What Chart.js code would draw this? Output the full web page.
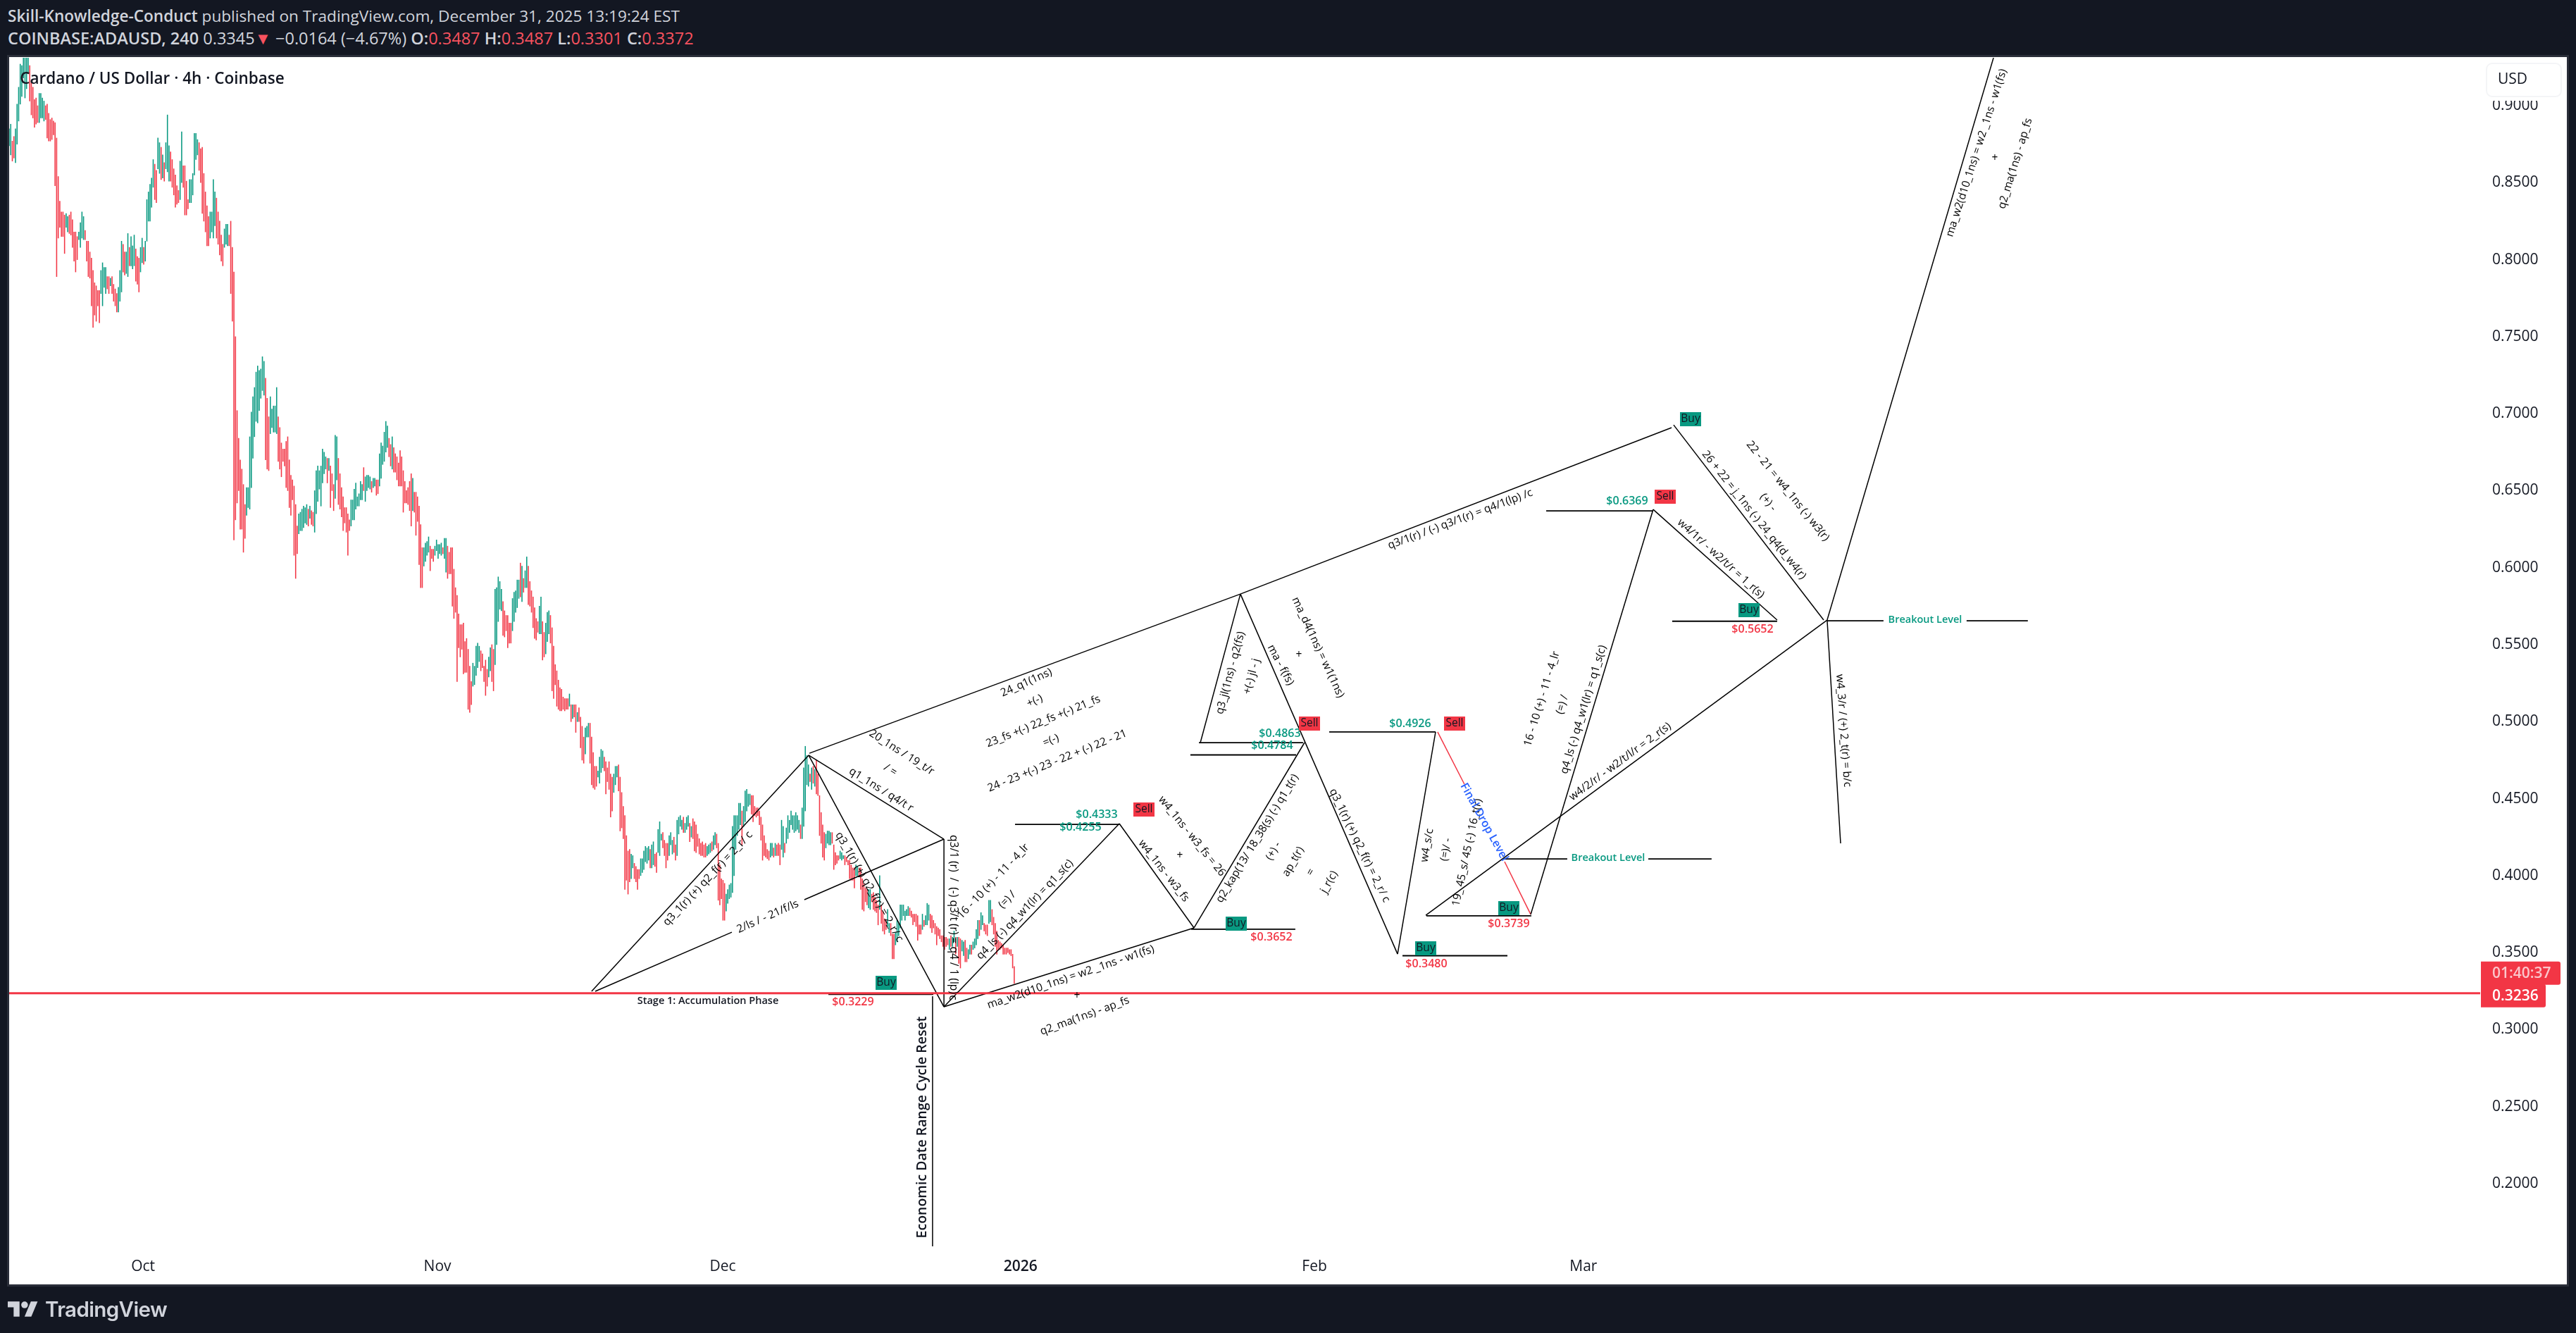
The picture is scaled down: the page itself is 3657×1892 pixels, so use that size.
<!DOCTYPE html>
<html>
<head>
<meta charset="utf-8">
<title>COINBASE:ADAUSD</title>
<script src="https://cdn.jsdelivr.net/npm/chart.js@4/dist/chart.umd.min.js"></script>
<style>
  html, body { margin: 0; width: 3657px; height: 1892px; background: #131722; overflow: hidden; }
  #panel { position: absolute; left: 10px; top: 78px; width: 3631px; height: 1742px; background: #fff; border: 3px solid #2a2e39; }
  #chart { position: absolute; left: 0; top: 0; }
  .head { position: absolute; left: 11px; font-family: "Open Sans"; color: #d1d4dc; white-space: nowrap; line-height: 30px; }
  .head b { font-weight: 600; }
  .head span { color: #f7525f; }
  #logo { position: absolute; left: 11px; top: 1847px; }
  #brand { position: absolute; left: 64px; top: 1840px; font: 600 29.5px Inter; color: #d1d4dc; letter-spacing: -0.6px; }
</style>
</head>
<body>
<div class="head" style="top:8px;font-size:22.6px"><b>Skill-Knowledge-Conduct</b> published on TradingView.com, December 31, 2025 13:19:24 EST</div>
<div class="head" style="top:39px;font-size:23.5px"><b>COINBASE:ADAUSD, 240</b> 0.3345<span>▼</span> −0.0164 (−4.67%) <b>O:</b><span>0.3487</span> <b>H:</b><span>0.3487</span> <b>L:</b><span>0.3301</span> <b>C:</b><span>0.3372</span></div>
<div id="panel"></div>
<canvas id="chart" width="3657" height="1892"></canvas>
<svg id="logo" width="43" height="22" viewBox="0 4 36 18"><path fill="#d1d4dc" d="M14 22H7V11H0V4h14v18zM28 22h-8l7.5-18h8L28 22z"/><circle fill="#d1d4dc" cx="20" cy="8" r="4"/></svg>
<div id="brand">TradingView</div>

<script>
// 4h candles (high, low, direction)
const highs = [
  .885,.888,.877,.880,.885,.901,.912,.927,.926,.945,
  .935,.940,.940,.926,.915,.912,.904,.905,.900,.908,
  .908,.905,.903,.900,.901,.895,.891,.892,.890,.889,
  .879,.854,.838,.831,.831,.829,.830,.828,.829,.831,
  .826,.818,.818,.815,.818,.824,.831,.828,.819,.812,
  .812,.805,.801,.793,.785,.783,.780,.780,.793,.798,
  .795,.795,.789,.789,.788,.789,.784,.781,.778,.782,
  .793,.812,.810,.805,.805,.817,.808,.815,.809,.816,
  .807,.802,.801,.808,.814,.808,.812,.839,.844,.849,
  .853,.865,.862,.858,.879,.876,.873,.868,.863,.876,
  .894,.874,.870,.865,.859,.855,.848,.845,.864,.883,
  .861,.861,.851,.839,.852,.852,.856,.882,.882,.878,
  .876,.872,.873,.856,.844,.835,.828,.831,.831,.852,
  .844,.840,.831,.825,.816,.810,.820,.823,.823,.816,
  .825,.808,.792,.750,.702,.684,.670,.664,.654,.641,
  .652,.652,.685,.701,.711,.717,.727,.731,.728,.729,
  .737,.734,.723,.710,.698,.711,.703,.705,.705,.717,
  .698,.691,.681,.677,.677,.682,.685,.670,.660,.657,
  .653,.641,.627,.635,.636,.638,.640,.639,.641,.638,
  .640,.637,.636,.650,.663,.666,.663,.666,.677,.675,
  .672,.671,.671,.666,.661,.654,.686,.685,.671,.661,
  .652,.646,.639,.639,.635,.631,.644,.644,.651,.655,
  .646,.648,.656,.654,.665,.659,.660,.660,.659,.656,
  .658,.658,.657,.657,.674,.681,.679,.688,.695,.692,
  .684,.680,.685,.678,.674,.672,.668,.676,.672,.663,
  .656,.650,.652,.656,.661,.658,.649,.649,.646,.640,
  .628,.613,.613,.616,.617,.620,.614,.612,.612,.614,
  .618,.615,.615,.616,.613,.619,.619,.614,.610,.613,
  .613,.599,.587,.582,.570,.563,.563,.564,.552,.554,
  .547,.536,.526,.538,.536,.549,.551,.549,.546,.544,
  .536,.540,.534,.542,.548,.550,.547,.586,.587,.594,
  .591,.586,.578,.572,.569,.569,.564,.564,.580,.584,
  .585,.592,.592,.603,.601,.593,.598,.607,.601,.591,
  .585,.581,.574,.567,.565,.575,.581,.565,.558,.564,
  .571,.572,.569,.561,.549,.537,.533,.527,.522,.521,
  .516,.515,.515,.515,.518,.511,.511,.511,.511,.506,
  .509,.503,.497,.490,.496,.497,.499,.499,.490,.480,
  .471,.471,.468,.477,.482,.481,.477,.474,.470,.474,
  .466,.464,.466,.471,.471,.472,.464,.454,.445,.439,
  .426,.416,.417,.414,.413,.408,.406,.404,.404,.411,
  .411,.416,.419,.418,.419,.417,.420,.422,.414,.415,
  .430,.435,.427,.428,.423,.421,.421,.426,.428,.423,
  .425,.420,.436,.438,.439,.436,.438,.434,.438,.439,
  .434,.432,.437,.435,.433,.427,.424,.421,.422,.420,
  .421,.419,.420,.421,.422,.426,.428,.427,.421,.407,
  .398,.397,.395,.388,.391,.394,.395,.432,.439,.439,
  .439,.447,.447,.442,.445,.455,.456,.453,.453,.452,
  .452,.445,.444,.444,.442,.438,.433,.426,.421,.417,
  .416,.421,.421,.418,.421,.420,.421,.420,.436,.432,
  .421,.431,.439,.436,.442,.439,.439,.441,.439,.436,
  .433,.444,.470,.484,.478,.472,.466,.470,.471,.469,
  .475,.466,.452,.441,.433,.428,.427,.429,.429,.428,
  .428,.420,.415,.413,.413,.416,.415,.413,.413,.412,
  .410,.410,.407,.405,.405,.407,.406,.405,.405,.398,
  .395,.392,.391,.391,.391,.388,.389,.386,.384,.381,
  .400,.381,.377,.372,.371,.378,.369,.369,.362,.362,
  .363,.371,.369,.381,.381,.381,.377,.378,.380,.379,
  .377,.375,.375,.375,.374,.368,.368,.375,.371,.374,
  .382,.381,.375,.374,.371,.369,.367,.366,.365,.361,
  .361,.360,.360,.359,.359,.361,.360,.364,.360,.360,
  .360,.359,.358,.357,.358,.353,.352,.355,.355,.357,
  .359,.365,.371,.371,.376,.374,.369,.368,.368,.384,
  .384,.378,.373,.369,.364,.358,.357,.356,.355,.353,
  .353,.353,.352,.352,.349,.341
];
const lows = [
  .874,.868,.864,.866,.863,.875,.890,.901,.906,.918,
  .905,.911,.921,.903,.894,.892,.886,.888,.889,.889,
  .892,.892,.890,.891,.879,.877,.877,.878,.881,.848,
  .789,.814,.821,.815,.815,.804,.821,.818,.817,.816,
  .808,.799,.792,.800,.813,.808,.814,.813,.813,.799,
  .789,.788,.770,.756,.764,.760,.770,.759,.778,.770,
  .782,.778,.781,.778,.783,.778,.773,.770,.766,.766,
  .773,.779,.792,.790,.791,.789,.796,.796,.794,.796,
  .786,.784,.779,.792,.798,.797,.799,.812,.825,.825,
  .834,.847,.839,.837,.859,.856,.852,.853,.851,.859,
  .857,.851,.851,.847,.842,.834,.836,.837,.839,.850,
  .847,.829,.829,.833,.837,.837,.842,.855,.865,.868,
  .858,.850,.830,.825,.818,.809,.809,.814,.818,.814,
  .822,.814,.810,.803,.799,.796,.808,.810,.809,.809,
  .778,.760,.618,.631,.642,.650,.625,.625,.610,.619,
  .634,.639,.638,.652,.671,.685,.695,.694,.702,.710,
  .715,.712,.670,.664,.663,.687,.691,.688,.688,.687,
  .669,.664,.659,.669,.666,.652,.650,.639,.634,.644,
  .608,.593,.609,.622,.624,.624,.626,.629,.628,.627,
  .632,.628,.627,.623,.635,.643,.651,.640,.655,.661,
  .664,.655,.663,.639,.650,.637,.645,.657,.641,.638,
  .633,.624,.629,.623,.608,.624,.627,.631,.631,.638,
  .640,.640,.644,.644,.650,.643,.650,.652,.651,.649,
  .652,.653,.647,.648,.653,.658,.667,.669,.675,.678,
  .672,.666,.664,.662,.662,.657,.653,.653,.653,.636,
  .642,.642,.641,.637,.627,.637,.636,.621,.630,.602,
  .587,.587,.601,.604,.608,.610,.598,.606,.604,.608,
  .611,.606,.609,.608,.609,.606,.597,.593,.596,.596,
  .575,.567,.571,.526,.548,.542,.547,.531,.532,.532,
  .508,.506,.511,.523,.524,.530,.535,.539,.533,.535,
  .526,.517,.523,.529,.533,.526,.520,.537,.550,.565,
  .573,.572,.556,.555,.559,.548,.551,.551,.559,.565,
  .571,.574,.580,.581,.578,.584,.587,.587,.576,.575,
  .571,.561,.554,.553,.558,.557,.557,.540,.542,.544,
  .552,.557,.551,.520,.515,.524,.510,.508,.507,.507,
  .508,.507,.508,.508,.510,.500,.502,.503,.493,.500,
  .500,.483,.475,.473,.479,.490,.490,.473,.459,.457,
  .456,.458,.464,.460,.467,.470,.468,.453,.461,.456,
  .438,.442,.454,.459,.464,.455,.429,.431,.424,.391,
  .397,.388,.396,.398,.405,.398,.396,.391,.398,.400,
  .402,.404,.409,.408,.410,.405,.405,.407,.406,.402,
  .415,.413,.423,.418,.413,.405,.410,.413,.420,.414,
  .415,.410,.413,.427,.432,.430,.428,.428,.430,.432,
  .422,.425,.424,.416,.415,.419,.414,.413,.413,.412,
  .412,.413,.414,.415,.416,.417,.420,.418,.384,.381,
  .385,.371,.371,.377,.382,.385,.386,.389,.400,.417,
  .426,.430,.433,.420,.432,.435,.442,.445,.446,.440,
  .435,.439,.438,.439,.433,.423,.410,.413,.412,.411,
  .410,.412,.413,.412,.413,.413,.413,.407,.417,.412,
  .415,.421,.424,.428,.433,.430,.428,.429,.430,.428,
  .424,.424,.432,.442,.459,.458,.461,.456,.460,.458,
  .453,.452,.426,.421,.412,.410,.418,.421,.420,.420,
  .421,.404,.407,.408,.410,.411,.410,.411,.407,.409,
  .407,.398,.397,.397,.392,.400,.400,.400,.391,.378,
  .377,.383,.381,.379,.378,.383,.378,.377,.376,.368,
  .378,.369,.364,.362,.365,.367,.363,.361,.346,.346,
  .355,.357,.361,.366,.371,.374,.371,.374,.374,.374,
  .373,.368,.370,.367,.358,.362,.362,.365,.367,.368,
  .368,.371,.366,.363,.366,.362,.355,.361,.359,.357,
  .354,.352,.354,.355,.352,.354,.354,.357,.349,.354,
  .343,.340,.351,.348,.344,.344,.346,.349,.349,.352,
  .353,.355,.359,.361,.365,.368,.364,.362,.361,.369,
  .370,.368,.362,.354,.349,.352,.352,.353,.349,.349,
  .349,.350,.349,.348,.340,.330
];
const directions = [
  "uudduuuuuu","uuuddddddu","uuuddddddd","dddddduudd","dddduuuudd","dddddddduu","uuddudddd" + "u","uudduuduuu",
  "ddduuduuuu","uudduududu","uudddddduu","dddduuuuuu","ddddddduuu","uddddduuud","dddddddddd","uuuuuuuuuu",
  "uuddduuuuu","dddddddddd","ddduuuuuud","udduuuuuuu","ududdduudd","dddddduuuu","uuuuduuuud","uudduuuuuu",
  "dduddddddd","dddddudddd","dduuuudddu","uuuuduuddd","dddddddddd","ddduuuuudd","ddduudduuu","uudddddduu",
  "uuududuudd","ddddduuddu","uudddddddd","ddddududdu","dddduuuddd","dduuuudddd","dduuuddddd","ddduuddddu",
  "uuuuuduudd","uuudddduuu","dduuuuduuu","dudddddddd","duuuduuddd","ddduuuuuuu","uuuduuuuud","dddddddddd",
  "duududdduu","duuuuuuuuu","duuuuududu","dddddduuuu","ddddduuudd","ddddduuddd","ddduuddddd","udddduuddd",
  "uuuuuuuuud","dddddddudu","uudddddddd","dddduduudu","dduudduudu","uuuduuddd" + "u","uddddddddd","dddddd"
].join("");

// price axis and month axis
const priceTicks = [0.2, 0.25, 0.3, 0.35, 0.4, 0.45, 0.5, 0.55, 0.6, 0.65, 0.7, 0.75, 0.8, 0.85, 0.9];
const monthTicks = [84.6, 270.6, 450.8, 639, 824.7, 994.6];
const monthLabels = ["Oct", "Nov", "Dec", "2026", "Feb", "Mar"];
const lastPrice = 0.3236;

// drawn trend lines, x in 4h bars, y in USD
const trendFromX = [368, 370.3, 502.4, 505.1, 505.1, 590.6, 590.6, 590.6, 701.4, 748.6, 752.6, 505.6, 777.9, 777.9, 877.2, 895, 961.3, 1038.7, 1051.6, 1148.6, 1148.6];
const trendFromP = [0.3249, 0.3249, 0.3844, 0.4782, 0.4782, 0.4237, 0.3148, 0.3148, 0.4338, 0.3661, 0.4864, 0.4795, 0.5829, 0.5829, 0.3491, 0.3743, 0.3748, 0.6378, 0.6927, 0.566, 0.566];
const trendToX = [505.1, 456.6, 590.6, 590.6, 590.6, 590.6, 701.4, 748.6, 748.6, 818.4, 777.9, 777.9, 1050.3, 877.2, 901.2, 1148.6, 1038.7, 1117, 1146.4, 1253.7, 1157.1];
const trendToP = [0.4782, 0.3633, 0.4237, 0.4237, 0.3148, 0.3148, 0.4338, 0.3661, 0.3661, 0.4864, 0.5829, 0.5829, 0.6909, 0.3491, 0.4933, 0.566, 0.6378, 0.566, 0.566, 0.9311, 0.421];

// horizontal levels
const levelFromX = [517.6, 635.5, 746.8, 746.3, 751.7, 834, 880.3, 895.4, 971.1, 1050.7, 1148.6, 1236.7, 944.4, 1035.6];
const levelToX = [583.9, 701.4, 812.6, 813.1, 817.5, 901.2, 946.6, 961.7, 1038.3, 1117, 1184.2, 1275.4, 984.4, 1075.6];
const levelP = [0.3229, 0.4333, 0.3652, 0.4784, 0.4863, 0.4933, 0.348, 0.3739, 0.6369, 0.5652, 0.5655, 0.5655, 0.4109, 0.4109];

// final drop line (red), broken by its label
const dropFromX = [902.5, 944.8];
const dropFromP = [0.4933, 0.4091];
const dropToX = [919.4, 961.3];
const dropToP = [0.4594, 0.3748];

// cycle reset marker
const resetX = [583.4, 583.4];
const resetP = [0.3217, 0.1593];

// text, canvas px: [text, centre x, centre y, degrees]
const notes = [
  ["q3_1(r) (+) q2_f(r) = 2_r/ c", 1005, 1247, -46.8],
  ["2/ls / - 21/f/ls", 1090, 1301, -24],
  ["20_1ns / 19_t/r", 1280, 1068, 32.6],
  ["/ =", 1264, 1093, 32],
  ["q1_1ns / q4/t r", 1251, 1121, 32],
  ["q3_1(r) (+) q2_f(r) = 2_r/ c", 1234, 1259, 60],
  ["q3/1 (r)  /  (-) q3/t (r) = q4 / 1 (lp)", 1353, 1298, 90],
  ["c", 1352, 1416, 90],
  ["16 - 10 (+) - 11 - 4_lr", 1410, 1251, -46.5],
  ["(=) /", 1430, 1277, -46],
  ["q4_ls (-) q4_w1(lr) = q1_s(c)", 1455, 1291, -46],
  ["ma_w2(d10_1ns) = w2 _1ns - w1(fs)", 1520, 1387, -18.9],
  ["+", 1529, 1414, 0],
  ["q2_ma(1ns) - ap_fs", 1540, 1442, -20],
  ["24_q1(1ns)", 1457, 969, -24],
  ["+(-)", 1469, 995, -24],
  ["23_fs +(-) 22_fs +(-) 21_fs", 1481, 1024, -22],
  ["=(-)", 1492, 1051, -22],
  ["24 - 23 +(-) 23 - 22 + (-) 22 - 21", 1501, 1080, -22],
  ["w4_1ns - w3_fs = 26", 1692, 1187, 51],
  ["+", 1675, 1215, 0],
  ["w4_1ns - w3_fs", 1652, 1236, 52],
  ["q2_kap(13/ 18_38(s) (-) q1_t(r)", 1785, 1190, -58.6],
  ["(+) -", 1808, 1208, -60],
  ["ap_t(r)", 1836, 1223, -60],
  ["=", 1861, 1238, -60],
  ["j_r(c)", 1887, 1252, -60],
  ["q3_jl(1ns) - q2(fs)", 1747, 955, -75],
  ["+(-) jl - j", 1777, 960, -75],
  ["ma - f(fs)", 1818, 944, 62],
  ["ma_d4(1ns) = w1(1ns)", 1871, 919, 65],
  ["+", 1844, 930, 0],
  ["q3_1(r) (+) q2_f(r) = 2_r/ c", 1930, 1200, 64],
  ["w4_s/c", 2026, 1200, -80],
  ["(=)/ -", 2053, 1206, -80],
  ["19_ 45_s/ 45 (-) 16_t(r)", 2083, 1210, -78],
  ["16 - 10 (+) - 11 - 4_lr", 2189, 992, -73],
  ["(=) /", 2218, 1000, -73],
  ["q4_ls (-) q4_w1(lr) = q1_s(c)", 2248, 1007, -73],
  ["w4/2/r/ - w2/t/l/r = 2_r(s)", 2300, 1081, -36.5],
  ["w4_3/r / (+) 2_t(r) = b/c", 2617, 1037, 86],
  ["q3/1(r) / (-) q3/1(r) = q4/1(lp) /c", 2073, 737, -20.5],
  ["26 + 22 = j_1ns (-) 24_q4(d_w4(r)", 2490, 731, 51.6],
  ["22 - 21 = w4_1ns (-) w3(r)", 2538, 697, 51],
  ["(+) -", 2510, 713, 51],
  ["w4/1r/ - w2/t/r = 1_r(s)", 2443, 793, 42],
  ["ma_w2(d10_1ns) = w2 _1ns - w1(fs)", 2806, 217, -72],
  ["+", 2832, 225, 0],
  ["q2_ma(1ns) - ap_fs", 2861, 232, -73]
];
// [text, centre x, centre y, color]
const priceNotes = [
  ["$0.3229", 1211, 1422, "#f23645"],
  ["$0.4333", 1557, 1156, "#089981"],
  ["$0.4255", 1534, 1174, "#089981"],
  ["$0.4863", 1817, 1041, "#089981"],
  ["$0.4784", 1806, 1058, "#089981"],
  ["$0.4926", 2002, 1027, "#089981"],
  ["$0.3652", 1805, 1330, "#f23645"],
  ["$0.3480", 2025, 1368, "#f23645"],
  ["$0.3739", 2142, 1311, "#f23645"],
  ["$0.6369", 2310, 711, "#089981"],
  ["$0.5652", 2488, 893, "#f23645"]
];
const breakoutNotes = [
  ["Breakout Level", 2733, 880],
  ["Breakout Level", 2283, 1218]
];
// [text, left, top]
const tags = [
  ["Buy", 1243, 1385], ["Sell", 1609, 1139], ["Sell", 1844, 1017], ["Sell", 2050, 1017],
  ["Buy", 1740, 1301], ["Buy", 2009, 1336], ["Buy", 2127, 1279], ["Buy", 2385, 585],
  ["Sell", 2349, 695], ["Buy", 2468, 856]
];

const UP = "#089981", DOWN = "#f23645";

function lineSet(points, color, width, order) {
  return { type: "line", data: points, borderColor: color, borderWidth: width, pointRadius: 0, tension: 0, order: order };
}

const datasets = [{
  type: "bar",
  data: highs.map((h, i) => ({ x: i, y: [lows[i], h] })),
  backgroundColor: highs.map((h, i) => (directions[i] === "u" ? UP : DOWN)),
  barThickness: 0.9,
  order: 5
}];
trendFromX.forEach((x, i) => {
  datasets.push(lineSet([{ x: x, y: trendFromP[i] }, { x: trendToX[i], y: trendToP[i] }], "#000", 1.5, 3));
});
levelFromX.forEach((x, i) => {
  datasets.push(lineSet([{ x: x, y: levelP[i] }, { x: levelToX[i], y: levelP[i] }], "#000", 1.8, 3));
});
dropFromX.forEach((x, i) => {
  datasets.push(lineSet([{ x: x, y: dropFromP[i] }, { x: dropToX[i], y: dropToP[i] }], DOWN, 1.5, 3));
});
datasets.push(lineSet(resetX.map((x, i) => ({ x: x, y: resetP[i] })), "#000", 1.5, 3));
datasets.push(lineSet([{ x: 0, y: lastPrice }, { x: 1561.2, y: lastPrice }], DOWN, 3, 1));

function centered(ctx, text, x, y, deg, font, color) {
  ctx.save();
  ctx.translate(x, y);
  ctx.rotate(deg * Math.PI / 180);
  ctx.font = font;
  ctx.fillStyle = color;
  ctx.textAlign = "center";
  ctx.textBaseline = "middle";
  ctx.fillText(text, 0, 0);
  ctx.restore();
}

const annotations = {
  id: "annotations",
  afterDraw(chart) {
    const ctx = chart.ctx;
    notes.forEach(n => centered(ctx, n[0], n[1], n[2], n[3], '15.5px "Open Sans"', "#000"));
    priceNotes.forEach(n => centered(ctx, n[0], n[1], n[2], 0, '600 16px "Open Sans"', n[3]));
    breakoutNotes.forEach(n => centered(ctx, n[0], n[1], n[2], 0, '600 14.5px "Open Sans"', UP));
    centered(ctx, "Stage 1: Accumulation Phase", 1005, 1421, 0, '600 14.5px "Open Sans"', "#131722");
    centered(ctx, "Economic Date Range Cycle Reset", 1309, 1600, -90, '600 19.5px "Open Sans"', "#131722");
    centered(ctx, "Final Drop Level", 2107, 1167, 61, '600 16px "Open Sans"', "#2962ff");
    centered(ctx, "Cardano / US Dollar · 4h · Coinbase", 216, 113, 0, '600 22.5px "Open Sans"', "#131722");

    tags.forEach(t => {
      ctx.fillStyle = t[0] === "Buy" ? UP : DOWN;
      ctx.fillRect(t[1], t[2], 30, 20);
      centered(ctx, t[0], t[1] + 15, t[2] + 10, 0, '15.5px "Open Sans"', "#131722");
    });

    // last price and countdown on the axis
    const y = chart.scales.y.getPixelForValue(lastPrice);
    ctx.fillStyle = DOWN;
    ctx.beginPath();
    ctx.roundRect(3522, y - 45, 113, 33, [0, 3, 3, 0]);
    ctx.fill();
    ctx.beginPath();
    ctx.roundRect(3522, y - 13, 92, 33, [0, 3, 3, 0]);
    ctx.fill();
    ctx.font = '600 21px "Open Sans"';
    ctx.textAlign = "left";
    ctx.textBaseline = "middle";
    ctx.fillStyle = "#fbc6cb";
    ctx.fillText("01:40:37", 3538, y - 28);
    ctx.fillStyle = "#fff";
    ctx.fillText(lastPrice.toFixed(4), 3538, y + 4);

    // currency button sits over the top tick label
    ctx.fillStyle = "#fff";
    ctx.fillRect(3530, 90, 106, 53);
    ctx.strokeStyle = "#f4f5f7";
    ctx.lineWidth = 2;
    ctx.beginPath();
    ctx.roundRect(3530, 90, 106, 47, 8);
    ctx.stroke();
    ctx.font = '21px "Open Sans"';
    ctx.fillStyle = "#131722";
    ctx.fillText("USD", 3546, 113);
  }
};

new Chart(document.getElementById("chart"), {
  data: { datasets: datasets },
  plugins: [annotations],
  options: {
    responsive: false,
    animation: false,
    events: [],
    devicePixelRatio: 1,
    layout: { padding: { left: 13, top: 82, right: 13, bottom: 69 } },
    plugins: { legend: { display: false }, tooltip: { enabled: false }, title: { display: false } },
    scales: {
      x: {
        type: "linear",
        offset: false,
        min: 0,
        max: 1561.2,
        grid: { display: false, drawTicks: false },
        border: { display: false },
        afterBuildTicks: s => { s.ticks = monthTicks.map(v => ({ value: v })); },
        afterFit: s => { s.height = 53; },
        ticks: {
          autoSkip: false,
          maxRotation: 0,
          padding: 15,
          color: "#131722",
          font: c => ({ family: "Open Sans", size: 21, weight: monthLabels[c.index] === "2026" ? "600" : "400" }),
          callback: (v, i) => monthLabels[i]
        }
      },
      y: {
        position: "right",
        min: 0.15882,
        max: 0.93111,
        grid: { display: false, drawTicks: false },
        border: { display: false },
        afterBuildTicks: s => { s.ticks = priceTicks.map(v => ({ value: v })); },
        afterFit: s => { s.width = 123; },
        ticks: {
          autoSkip: false,
          padding: 17,
          color: "#131722",
          font: { family: "Open Sans", size: 21 },
          callback: v => v.toFixed(4)
        }
      }
    }
  }
});
</script>
</body>
</html>
